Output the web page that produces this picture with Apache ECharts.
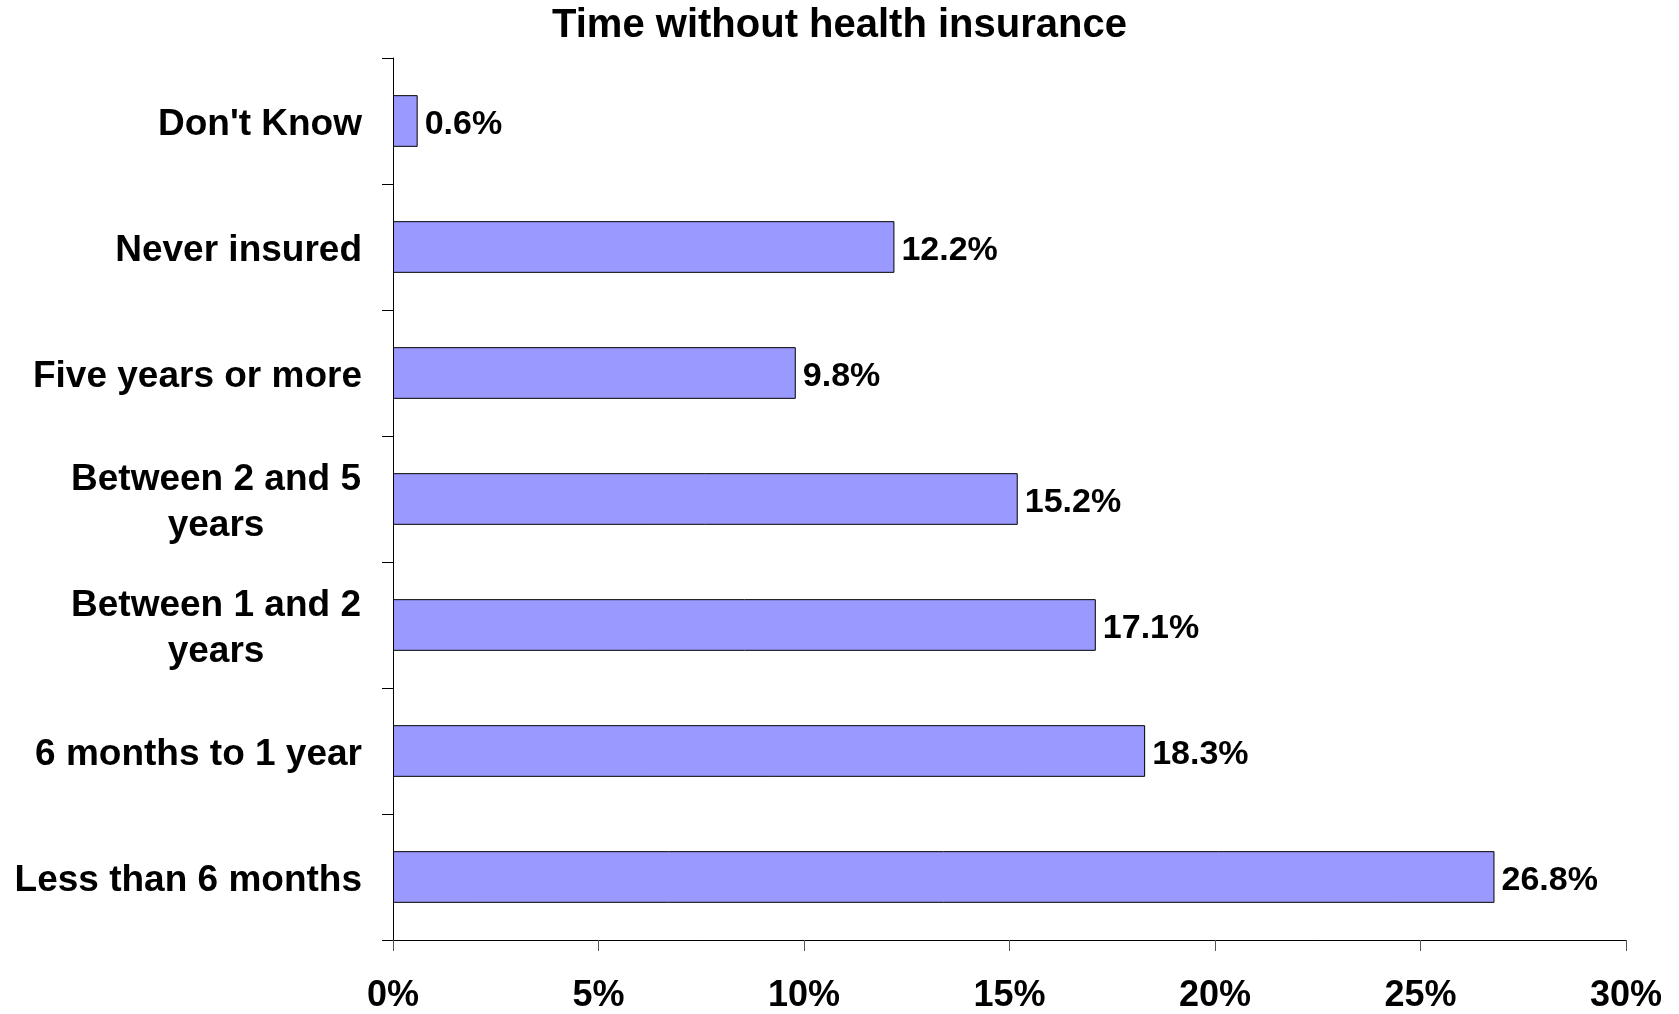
<!DOCTYPE html>
<html>
<head>
<meta charset="utf-8">
<title>Time without health insurance</title>
<script src="https://cdn.jsdelivr.net/npm/echarts@6/dist/echarts.min.js"></script>
<style>
  html, body { margin: 0; padding: 0; background: #ffffff; }
  #chart { width: 1679px; height: 1014px; }
</style>
</head>
<body>
<div id="chart"></div>
<script>
// Categories, top to bottom
const categories = [
  "Don't Know",
  "Never insured",
  "Five years or more",
  "Between 2 and 5\nyears",
  "Between 1 and 2\nyears",
  "6 months to 1 year",
  "Less than 6 months"
];
// Share of respondents (%)
const shares = [0.6, 12.2, 9.8, 15.2, 17.1, 18.3, 26.8];
// Value axis ticks (%)
const tickValues = [0, 5, 10, 15, 20, 25, 30];

const FONT = '"Liberation Sans", Arial, Helvetica, sans-serif';

const chart = echarts.init(document.getElementById('chart'), null, { renderer: 'canvas' });

// Two-line labels: lines centred on each other, block right-aligned to the axis
function categoryLabel(name) {
  const parts = name.split('\n');
  if (parts.length === 1) return '{one|' + name + '}';
  return parts.map(p => '{two|' + p + '}').join('\n');
}

chart.setOption({
  backgroundColor: '#ffffff',
  animation: false,
  title: {
    text: 'Time without health insurance',
    left: 'center',
    top: 1,
    textStyle: { fontFamily: FONT, fontWeight: 'bold', fontSize: 40, color: '#000000' }
  },
  grid: { left: 393, right: 53, top: 58, bottom: 72, containLabel: false },
  xAxis: {
    type: 'value',
    min: tickValues[0],
    max: tickValues[tickValues.length - 1],
    interval: tickValues[1] - tickValues[0],
    splitLine: { show: false },
    axisLine: { show: true, lineStyle: { color: '#000000', width: 1 } },
    axisTick: { show: true, length: 11, lineStyle: { color: '#555555', width: 1 } },
    axisLabel: {
      margin: 38,
      formatter: v => v + '%',
      fontFamily: FONT, fontWeight: 'bold', fontSize: 36, color: '#000000'
    }
  },
  yAxis: {
    type: 'category',
    inverse: true,
    data: categories,
    axisLine: { show: true, lineStyle: { color: '#000000', width: 1 } },
    axisTick: { show: true, length: 11, lineStyle: { color: '#000000', width: 1 } },
    axisLabel: {
      margin: 31,
      padding: [8, 0, 0, 0],
      formatter: categoryLabel,
      color: '#000000',
      rich: {
        one: { fontFamily: FONT, fontWeight: 'bold', fontSize: 37, color: '#000000' },
        two: { fontFamily: FONT, fontWeight: 'bold', fontSize: 37, color: '#000000',
               width: 292, align: 'center', lineHeight: 46 }
      }
    }
  },
  series: [{
    type: 'bar',
    data: shares,
    barWidth: '41%',
    itemStyle: { color: '#9999ff', borderColor: '#000000', borderWidth: 1 },
    label: {
      show: true,
      position: 'right',
      distance: 7,
      offset: [0, 4],
      formatter: p => p.value.toFixed(1) + '%',
      fontFamily: FONT, fontWeight: 'bold', fontSize: 34, color: '#000000'
    }
  }]
});
</script>
</body>
</html>
